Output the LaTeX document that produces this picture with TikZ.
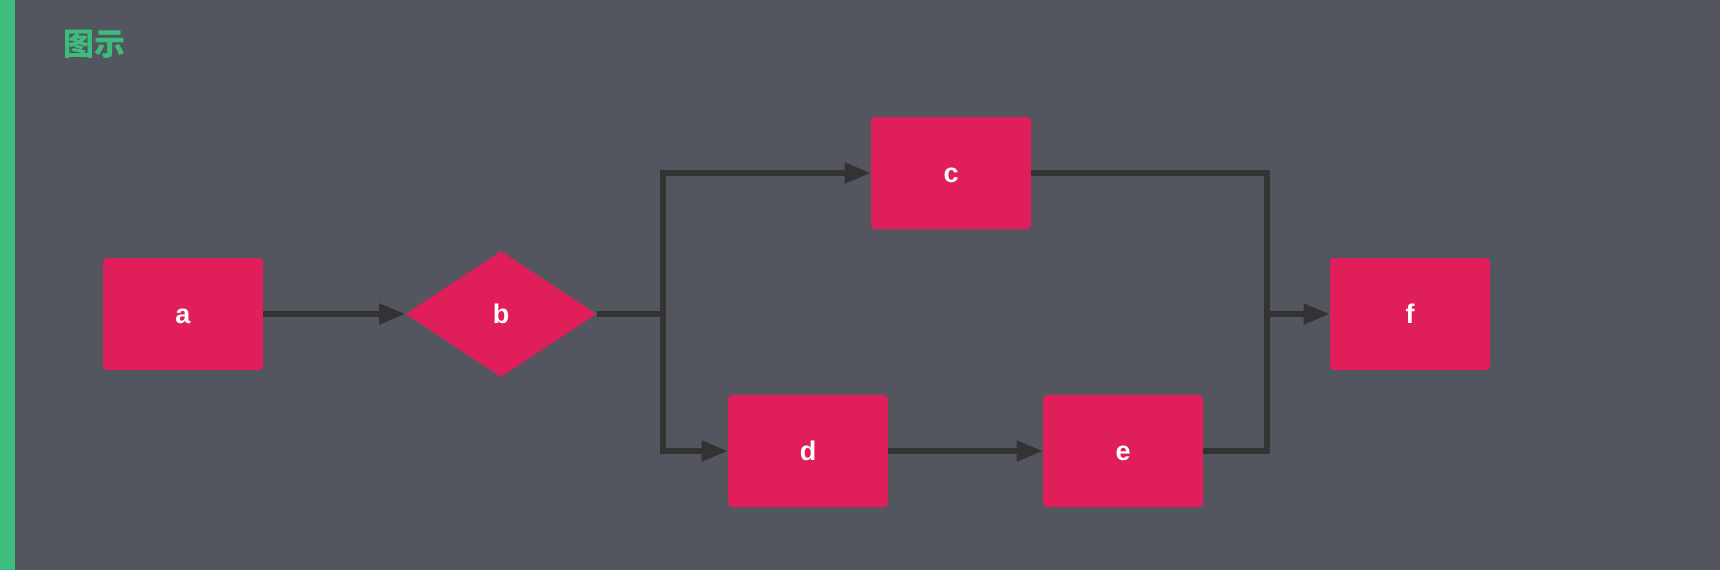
\documentclass[tikz,border=0pt]{standalone}
\usepackage{fontspec}
\setmainfont{Liberation Sans}
\newfontfamily\cjk{Noto Sans CJK SC}
\usepackage{tikz}
\usetikzlibrary{arrows.meta,positioning,shapes.geometric}
\definecolor{pagebg}{HTML}{53565E}
\definecolor{barcol}{HTML}{3DBD7D}
\definecolor{boxcol}{HTML}{E01E5A}
\definecolor{linecol}{HTML}{333333}

\begin{document}
\begin{tikzpicture}[
  x=0.5pt, y=-0.5pt,
  flownode/.style={fill=boxcol, rounded corners=2pt, minimum width=80pt, minimum height=56pt, inner sep=0pt, text=white, text height=9.5pt, text depth=0pt, font=\bfseries\fontsize{13.5}{15}\selectfont},
  decision/.style={fill=boxcol, diamond, minimum width=95.5pt, minimum height=63pt, inner sep=0pt, text=white, text height=9.5pt, text depth=0pt, font=\bfseries\fontsize{13.5}{15}\selectfont},
  link/.style={draw=linecol, line width=2.6pt},
  arr/.style={link, -{Triangle[length=13pt, width=10pt]}}
]
\useasboundingbox (0,0) rectangle (1720,570);
\fill[pagebg] (0,0) rectangle (1720,570);
\fill[barcol] (0,0) rectangle (15,570);
\node[text=barcol, font=\cjk\bfseries\fontsize{15.5}{18}\selectfont, anchor=west] (title) at (56,44) {图示};

\node[flownode] (a) at (183,314) {a};
\node[decision] (b) at (501,314) {b};
\node[flownode] (c) at (951,173) {c};
\node[flownode] (d) at (808,451) {d};
\node[flownode] (e) at (1123,451) {e};
\node[flownode] (f) at (1410,314) {f};
\coordinate (split) at (663,314);
\coordinate (join) at (1267,314);

\draw[arr] (a) -- (b);
\draw[link] (b.east) -- (split);
\draw[arr] (split) |- (c.west);
\draw[arr] (split) |- (d.west);
\draw[arr] (d) -- (e);
\draw[link] (c.east) -| (join);
\draw[link] (e.east) -| (join);
\draw[arr] (join) -- (f.west);
\end{tikzpicture}
\end{document}
